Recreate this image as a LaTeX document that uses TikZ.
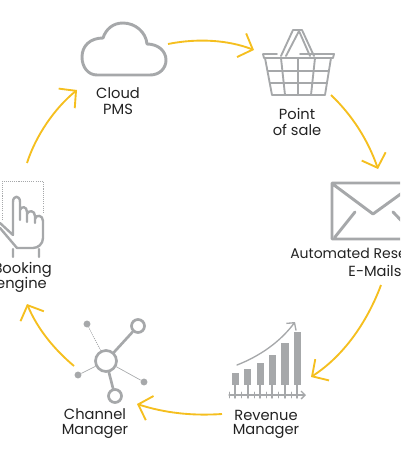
\documentclass[tikz,border=0pt]{standalone}
\usepackage{fontspec}
\setmainfont{Poppins}
\usetikzlibrary{arrows.meta}
\definecolor{ringyellow}{HTML}{F5BF1F}
\definecolor{icongrey}{HTML}{A6A8AA}
\definecolor{labelink}{HTML}{222222}
\tikzset{
  ringarrow/.style={draw=ringyellow,line width=1.4pt,-{Straight Barb[length=9pt,width=19pt,line width=1.4pt]}},
  iconline/.style={draw=icongrey,line width=1.5pt,line join=round,line cap=round},
  iconthin/.style={draw=icongrey,line width=1pt,line join=round,line cap=round},
  hairline/.style={draw=icongrey,line width=.5pt},
  dotline/.style={draw=icongrey,line width=.6pt,dash pattern=on .8pt off .8pt},
  bar/.style={fill=icongrey,draw=none},
  hub/.style={circle,draw=icongrey,line width=2pt,fill=white,inner sep=0pt},
  leaf/.style={circle,fill=icongrey,draw=none,inner sep=0pt,minimum size=5.2pt},
  label/.style={text=labelink,font=\fontsize{11pt}{12pt}\selectfont,inner sep=0pt}
}
\begin{document}
\begin{tikzpicture}[x=.75pt,y=-.75pt]
\useasboundingbox (0,0) rectangle (400,464);
\clip (0,0) rectangle (400,464);
% cloud
\draw[iconline,line width=2.2pt] (97,75) -- (150,75)
  .. controls (160,75) and (166,68) .. (166,60)
  .. controls (166,51) and (158,44) .. (147,44)
  .. controls (146,32) and (135,23) .. (123,23)
  .. controls (113,23) and (106,29) .. (103,38)
  .. controls (90,38) and (82,46) .. (82,57)
  .. controls (82,67) and (88,75) .. (97,75) -- cycle;
% basket
\draw[iconthin,line width=1.4pt] (263,54) -- (277,54) (263,54) -- (264,58) -- (333,58) -- (334,54) -- (300,54)
  (265,58) -- (272,95) -- (325,95) -- (331,58)
  (268,71) -- (329,71) (270,83) -- (327,83)
  (281,58) -- (285,95) (298,58) -- (298,95) (315,58) -- (311,95)
  (281,56) -- (293,30) -- (302,30) -- (314,56)
  (286,56) -- (299,31) -- (310,56);
% envelope
\draw[iconline,line width=2.2pt] (420,183) -- (332,183) -- (332,239) -- (420,239)
  (334,185) -- (373,214) -- (420,180)
  (335,237) -- (355,212) (393,212) -- (420,240);
% revenue chart
\fill[bar] (232,373) rectangle (239,385);
\fill[bar] (244,369) rectangle (251,385);
\fill[bar] (257,363) rectangle (264,385);
\fill[bar] (269,355) rectangle (276,385);
\fill[bar] (281,343) rectangle (289,385);
\fill[bar] (294,332) rectangle (301,385);
\draw[iconthin,-{Straight Barb[length=3pt,width=6pt]}] (229,395) -- (306,395);
\foreach \tx in {235,248,260,272,285,297}{\draw[iconthin] (\tx,385) -- (\tx,398);}
\foreach \tx in {229,241,254,266,278,291}{\draw[iconthin,line width=.7pt] (\tx,392) -- (\tx,398);}
\coordinate (chartA) at (237,365);
\coordinate (chartB) at (295,322);
\draw[iconthin,-{Straight Barb[length=4pt,width=9pt]}] (chartA) .. controls (260,356) and (280,342) .. (chartB);
% channel network
\node[hub,minimum size=21pt*.75] (hubC) at (106,361) {};
\node[hub,minimum size=13pt*.75] (hubU) at (138,326) {};
\node[hub,minimum size=13pt*.75] (hubD) at (115,396) {};
\node[leaf] (leafA) at (87,324) {};
\node[leaf] (leafB) at (78,375) {};
\node[leaf] (leafC) at (144,382) {};
\draw[iconline,line width=2pt] (hubC) -- (hubU);
\draw[iconline,line width=2pt] (hubC) -- (hubD);
\draw[dotline] (hubC) -- (leafA);
\draw[hairline] (hubC) -- (leafB);
\draw[hairline] (hubC) -- (leafC);
% hand
\draw[dotline] (2,220) -- (2,181) -- (43,181) -- (43,214);
\draw[iconline,line width=1.8pt] (0,223) -- (13,235)
  (13,235) -- (13,202) .. controls (13,195) and (20,195) .. (20,202) -- (20,220)
  (20,210) .. controls (21,206) and (27,206) .. (27,212) -- (27,222)
  (27,214) .. controls (28,210) and (35,210) .. (35,216) -- (35,223)
  (35,219) .. controls (36,214) and (43,215) .. (43,221) -- (43,238)
  .. controls (43,244) and (38,248) .. (33,248) -- (17,248) -- (0,228)
  (13,249) -- (13,257) (39,249) -- (39,257);
% labels
\node[label] (cloudA) at (118,93) {Cloud};
\node[label] (cloudB) at (118,109) {PMS};
\node[label] (posA) at (297,114) {Point};
\node[label] (posB) at (297,130) {of sale};
\node[label,anchor=west,font=\fontsize{10.5pt}{12pt}\selectfont] (mailA) at (290,253) {Automated Rese};
\node[label] (mailB) at (375,271) {E-Mails};
\node[label] (revA) at (266,415) {Revenue};
\node[label] (revB) at (266,431) {Manager};
\node[label] (chanA) at (95,414) {Channel};
\node[label] (chanB) at (95,431) {Manager};
\node[label,anchor=east] (bookA) at (52,270) {Booking};
\node[label,anchor=east] (bookB) at (47,285) {engine};
% ring arrows
\coordinate (a1) at (168,44); \coordinate (b1) at (254,50);
\coordinate (a2) at (331,95); \coordinate (b2) at (378,169);
\coordinate (a3) at (381,285); \coordinate (b3) at (311,377);
\coordinate (a4) at (222,414); \coordinate (b4) at (137,404);
\coordinate (a5) at (74,366); \coordinate (b5) at (27,304);
\coordinate (a6) at (27,163); \coordinate (b6) at (77,90);
\draw[ringarrow] (a1) .. controls (198,38) and (228,40) .. (b1);
\draw[ringarrow] (a2) .. controls (352,115) and (368,140) .. (b2);
\draw[ringarrow] (a3) .. controls (368,320) and (345,355) .. (b3);
\draw[ringarrow] (a4) .. controls (192,416) and (165,413) .. (b4);
\draw[ringarrow] (a5) .. controls (55,350) and (38,330) .. (b5);
\draw[ringarrow] (a6) .. controls (36,135) and (55,108) .. (b6);
\end{tikzpicture}
\end{document}
